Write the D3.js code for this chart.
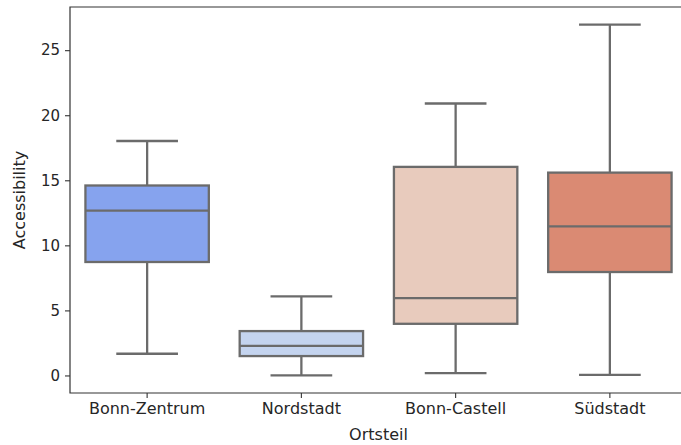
<!DOCTYPE html>
<html>
<head>
<meta charset="utf-8">
<script src="https://cdn.jsdelivr.net/npm/d3@7"></script>
<style>
  body { margin: 0; background: #fff; }
  text { font-family: "DejaVu Sans", sans-serif; fill: #262626; }
</style>
</head>
<body>
<svg id="chart" width="681" height="445"></svg>
<script>
// values
var districts = ["Bonn-Zentrum", "Nordstadt", "Bonn-Castell", "Südstadt"];
var whiskerLow  = [1.67, 0.0, 0.18, 0.05];
var q1          = [8.72, 1.49, 3.97, 7.95];
var medians     = [12.67, 2.28, 5.95, 11.46];
var q3          = [14.6, 3.41, 16.03, 15.59];
var whiskerHigh = [18.02, 6.08, 20.9, 26.97];
var boxColors   = ["#86a3ee", "#c4d4ef", "#e8cbbd", "#da8a73"];
var yTicks      = [0, 5, 10, 15, 20, 25];

var svg = d3.select("#chart");
var margin = {left: 70, top: 7, right: 687, bottom: 393};
var lineColor = "#6b6b6b";

var boxes = districts.map(function(d, i){
    return {name: d, lo: whiskerLow[i], q1: q1[i], med: medians[i], q3: q3[i], hi: whiskerHigh[i], color: boxColors[i]};
});

var x = d3.scaleBand().domain(districts)
    .range([margin.left, margin.right])
    .paddingInner(0.2).paddingOuter(0.1);

var ymin = d3.min(whiskerLow), ymax = d3.max(whiskerHigh);
var pad = (ymax - ymin) * 0.05;
var y = d3.scaleLinear().domain([ymin - pad, ymax + pad]).range([margin.bottom, margin.top]);

var g = svg.append("g").selectAll(".box")
    .data(boxes)
    .enter()
    .append("g")
    .attr("class", "box");

var capHalf = x.bandwidth() / 4;

// whiskers
g.append("line")
    .attr("x1", function(d){ return x(d.name) + x.bandwidth() / 2; })
    .attr("x2", function(d){ return x(d.name) + x.bandwidth() / 2; })
    .attr("y1", function(d){ return y(d.hi); })
    .attr("y2", function(d){ return y(d.q3); })
    .attr("stroke", lineColor).attr("stroke-width", 2.3);
g.append("line")
    .attr("x1", function(d){ return x(d.name) + x.bandwidth() / 2; })
    .attr("x2", function(d){ return x(d.name) + x.bandwidth() / 2; })
    .attr("y1", function(d){ return y(d.q1); })
    .attr("y2", function(d){ return y(d.lo); })
    .attr("stroke", lineColor).attr("stroke-width", 2.3);
// caps
["hi", "lo"].forEach(function(k){
    g.append("line")
        .attr("x1", function(d){ return x(d.name) + x.bandwidth() / 2 - capHalf; })
        .attr("x2", function(d){ return x(d.name) + x.bandwidth() / 2 + capHalf; })
        .attr("y1", function(d){ return y(d[k]); })
        .attr("y2", function(d){ return y(d[k]); })
        .attr("stroke", lineColor).attr("stroke-width", 2.3);
});

g.append("rect")
    .attr("x", function(d){ return x(d.name); })
    .attr("width", x.bandwidth())
    .attr("y", function(d){ return y(d.q3); })
    .attr("height", function(d){ return y(d.q1) - y(d.q3); })
    .attr("fill", function(d){ return d.color; })
    .attr("stroke", lineColor).attr("stroke-width", 2.3);

g.append("line")
    .attr("x1", function(d){ return x(d.name); })
    .attr("x2", function(d){ return x(d.name) + x.bandwidth(); })
    .attr("y1", function(d){ return y(d.med); })
    .attr("y2", function(d){ return y(d.med); })
    .attr("stroke", lineColor).attr("stroke-width", 2.3);

// axes
var yAxis = d3.axisLeft(y).tickValues(yTicks).tickSize(5).tickPadding(5);
var xAxis = d3.axisBottom(x).tickSize(5).tickPadding(5);

var ya = svg.append("g").attr("transform", "translate(" + margin.left + ",0)").call(yAxis);
var xa = svg.append("g").attr("transform", "translate(0," + margin.bottom + ")").call(xAxis);
[ya, xa].forEach(function(a){
    a.select(".domain").remove();
    a.selectAll(".tick line").attr("stroke", "#333").attr("stroke-width", 1.1);
    a.selectAll(".tick text").attr("fill", "#262626")
        .style("font-family", "DejaVu Sans, sans-serif");
});
ya.selectAll(".tick text").attr("font-size", 15);
xa.selectAll(".tick text").attr("font-size", 16);

// spines (right one falls outside the picture)
svg.append("path")
    .attr("d", "M" + margin.right + "," + margin.top + "H" + margin.left + "V" + margin.bottom + "H" + margin.right)
    .attr("fill", "none").attr("stroke", "#333").attr("stroke-width", 1.2);

svg.append("text")
    .attr("x", (margin.left + margin.right) / 2)
    .attr("y", 440)
    .attr("text-anchor", "middle")
    .attr("font-size", 16)
    .text("Ortsteil");

svg.append("text")
    .attr("transform", "translate(25," + (margin.top + margin.bottom) / 2 + ") rotate(-90)")
    .attr("text-anchor", "middle")
    .attr("font-size", 16)
    .text("Accessibility");
</script>
</body>
</html>
